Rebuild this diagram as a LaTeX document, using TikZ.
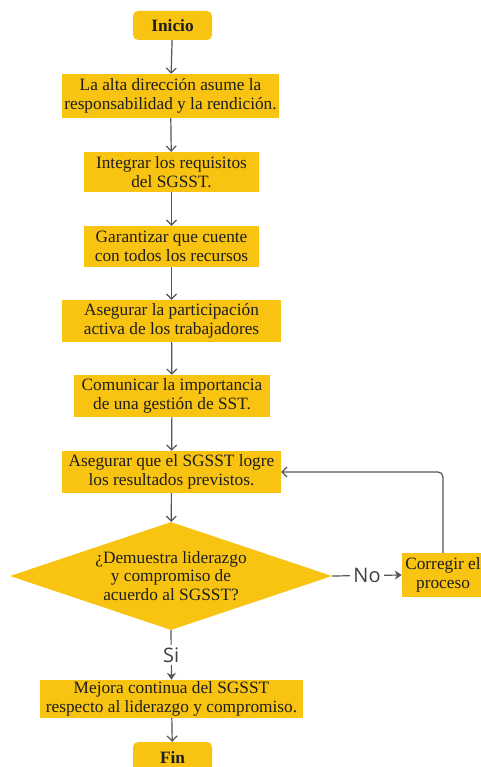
\documentclass[tikz,border=0pt]{standalone}
\usepackage{fontspec}
\setmainfont{Liberation Serif}
\newfontfamily\labelfont{Open Sans}
\usetikzlibrary{shapes.geometric,arrows.meta}
\definecolor{boxfill}{RGB}{249,196,17}
\definecolor{linegray}{RGB}{85,85,85}
\definecolor{txt}{RGB}{30,30,30}
\begin{document}
\begin{tikzpicture}[x=1pt,y=1pt,
  every node/.style={text=txt},
  procbox/.style={fill=boxfill,draw=none,align=center,inner sep=0pt,
    font=\fontsize{17.3}{18.5}\selectfont},
  termbox/.style={fill=boxfill,draw=none,rounded corners=5pt,inner sep=0pt,
    minimum width=79pt,font=\fontsize{17.3}{18.5}\selectfont\bfseries},
  decision/.style={diamond,fill=boxfill,draw=none,shape aspect=3,inner sep=0pt,
    align=center,minimum width=322pt,minimum height=108pt,
    font=\fontsize{17.3}{18.5}\selectfont},
  flow/.style={draw=linegray,line width=1.2pt,-{Straight Barb[length=5pt,width=10pt,line width=1.2pt]}},
  branch/.style={draw=linegray,line width=1.2pt,-{Stealth[length=7pt,width=9pt]}},
  tag/.style={fill=white,inner sep=3pt,text=txt!85,font=\labelfont\fontsize{20}{22}\selectfont}]
\useasboundingbox (0,0) rectangle (481,-767);

\node[termbox,minimum height=29pt] (start) at (172.5,-25.5) {Inicio};
\node[procbox,minimum width=217pt,minimum height=44pt] (b1) at (170.5,-96)
  {La alta dirección asume la\\responsabilidad y la rendición.};
\node[procbox,minimum width=175pt,minimum height=40pt] (b2) at (171.5,-172)
  {Integrar los requisitos\\del SGSST.};
\node[procbox,minimum width=175pt,minimum height=41pt] (b3) at (171.5,-246.5)
  {Garantizar que cuente\\con todos los recursos};
\node[procbox,minimum width=219pt,minimum height=42pt] (b4) at (171.5,-321)
  {Asegurar la participación\\activa de los trabajadores};
\node[procbox,minimum width=196pt,minimum height=42pt] (b5) at (172,-396)
  {Comunicar la importancia\\de una gestión de SST.};
\node[procbox,minimum width=219pt,minimum height=42pt] (b6) at (171.5,-472)
  {Asegurar que el SGSST logre\\los resultados previstos.};
\node[decision] (dec) at (171,-576)
  {¿Demuestra liderazgo\\y compromiso de\\acuerdo al SGSST?};
\node[procbox,minimum width=82pt,minimum height=44pt] (fix) at (443,-575)
  {Corregir el\\proceso};
\node[procbox,minimum width=263pt,minimum height=38pt] (b7) at (171.5,-699)
  {Mejora continua del SGSST\\respecto al liderazgo y compromiso.};
\node[termbox,minimum height=31pt] (stop) at (172.5,-757.5) {Fin};

\draw[flow] (start) -- (b1);
\draw[flow] (b1) -- (b2);
\draw[flow] (b2) -- (b3);
\draw[flow] (b3) -- (b4);
\draw[flow] (b4) -- (b5);
\draw[flow] (b5) -- (b6);
\draw[flow] (b6) -- (dec);
\draw[branch] (dec.east) -- node[tag] (no) {No} (fix.west);
\draw[branch] (dec.south) -- node[tag] (si) {Si} (b7.north);
\draw[flow] (b7) -- (stop);
\draw[flow,rounded corners=5pt] (fix.north) |- (b6.east);
\end{tikzpicture}
\end{document}
